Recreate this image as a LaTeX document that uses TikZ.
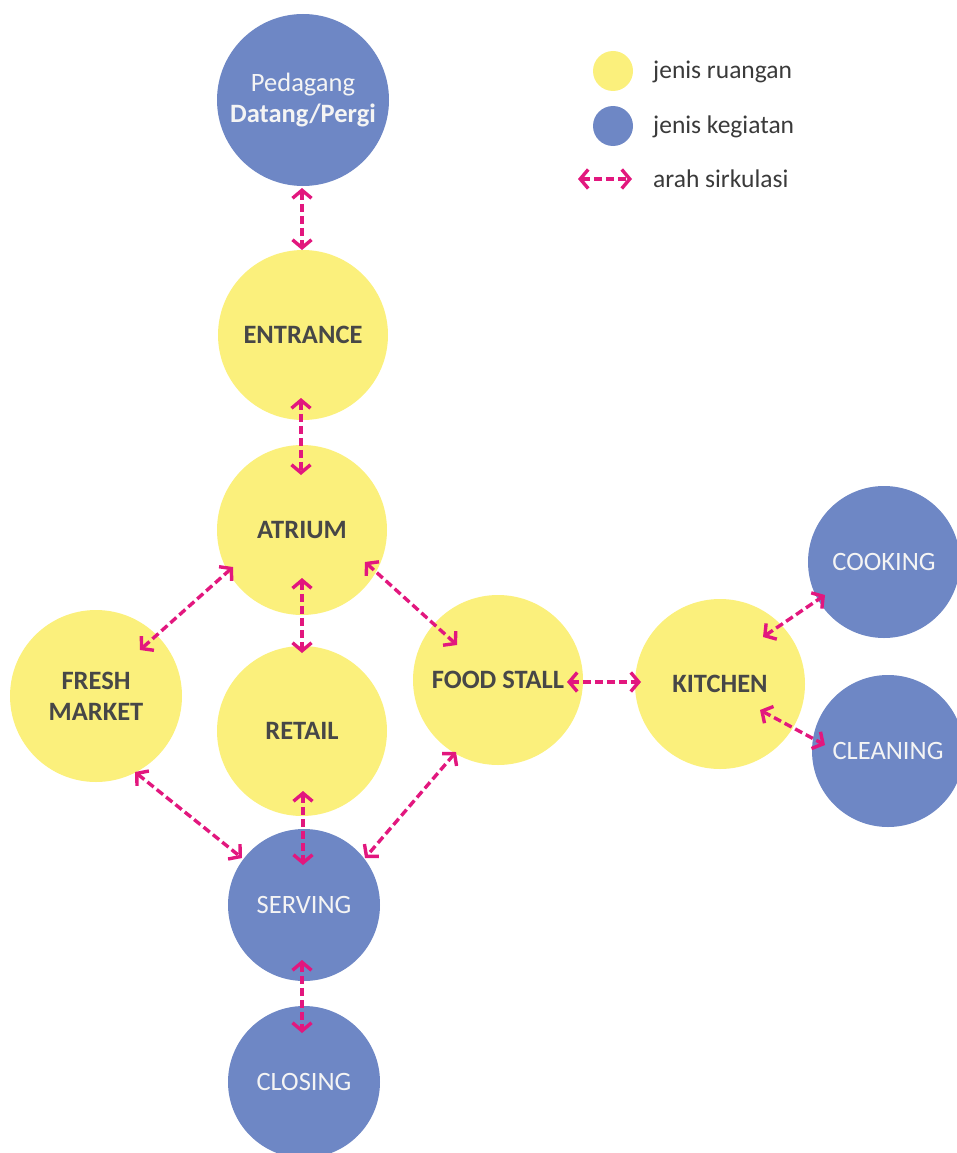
\documentclass[tikz,border=0pt]{standalone}
\usepackage{fontspec}
\setmainfont{Carlito}
\usetikzlibrary{arrows.meta}

\definecolor{roomfill}{HTML}{FBF07C}
\definecolor{actfill}{HTML}{6E87C5}
\definecolor{flowpink}{HTML}{E2177E}
\definecolor{darktext}{HTML}{474747}
\definecolor{keytextcol}{HTML}{3A3A3A}
\definecolor{lighttext}{HTML}{F4F4F4}

\tikzset{
  room/.style={circle, fill=roomfill, draw=none, minimum size=170pt, inner sep=0pt,
    text=darktext, font=\fontsize{26.5}{31}\selectfont\bfseries, align=center},
  activity/.style={circle, fill=actfill, draw=none, minimum size=152pt, inner sep=0pt,
    text=lighttext, font=\fontsize{26.5}{31}\selectfont, align=center},
  keydot/.style={circle, draw=none, minimum size=40pt, inner sep=0pt},
  keytext/.style={anchor=west, inner sep=0pt, text=keytextcol, font=\fontsize{25.5}{30}\selectfont},
  flow/.style={draw=flowpink, line width=3.4pt, dash pattern=on 8pt off 4pt,
    {Straight Barb[length=8pt,width=19pt]}-{Straight Barb[length=8pt,width=19pt]}},
}

\begin{document}
\begin{tikzpicture}[x=1pt,y=-1pt]
  \clip (0,0) rectangle (957,1153);

  % activities
  \node[activity, minimum size=172pt] (ped) at (303,100) {Pedagang\\\textbf{Datang/Pergi}};
  \node[activity] (cook)  at (884,562)  {COOKING};
  \node[activity] (clean) at (888,751)  {CLEANING};
  \node[activity] (serv)  at (304,905)  {SERVING};
  \node[activity] (clos)  at (304,1082) {CLOSING};

  % rooms
  \node[room] (ent) at (303,335) {ENTRANCE};
  \node[room] (atr) at (302,530) {ATRIUM};
  \node[room] (ret) at (302,731) {RETAIL};
  \node[room, minimum size=172pt] (fm) at (96,696) {FRESH\\MARKET};
  \node[room] (fs)  at (498,680) {FOOD STALL};
  \node[room] (kit) at (720,684) {KITCHEN};

  % circulation
  \draw[flow] ([shift={(-1,88)}]ped.center)  -- ([shift={(-1,-85)}]ent.center);
  \draw[flow] ([shift={(-2,63)}]ent.center)  -- ([shift={(-1,-55)}]atr.center);
  \draw[flow] ([shift={(0,48)}]atr.center)   -- ([shift={(0,-78)}]ret.center);
  \draw[flow] ([shift={(1,60)}]ret.center)   -- ([shift={(-1,-40)}]serv.center);
  \draw[flow] ([shift={(-2,55)}]serv.center) -- ([shift={(-2,-49)}]clos.center);
  \draw[flow] ([shift={(-69,37)}]atr.center) -- ([shift={(44,-46)}]fm.center);
  \draw[flow] ([shift={(39,76)}]fm.center)   -- ([shift={(-62,-47)}]serv.center);
  \draw[flow] ([shift={(63,32)}]atr.center)  -- ([shift={(-41,-35)}]fs.center);
  \draw[flow] ([shift={(-42,72)}]fs.center)  -- ([shift={(61,-47)}]serv.center);
  \draw[flow] ([shift={(69,2)}]fs.center)    -- ([shift={(-79,-2)}]kit.center);
  \draw[flow] ([shift={(43,-47)}]kit.center) -- ([shift={(-59,33)}]cook.center);
  \draw[flow] ([shift={(40,26)}]kit.center)  -- ([shift={(-63,-6)}]clean.center);

  % key
  \node[keydot, fill=roomfill] (keyroom) at (613,71) {};
  \node[keydot, fill=actfill]  (keyact)  at (613,126) {};
  \coordinate (keyL) at (578,179);
  \coordinate (keyR) at (632,179);
  \draw[flow] (keyL) -- (keyR);
  \node[keytext] (keyroomtxt) at (653,72)  {jenis ruangan};
  \node[keytext] (keyacttxt)  at (653,127) {jenis kegiatan};
  \node[keytext] (keyflowtxt) at (653,179) {arah sirkulasi};
\end{tikzpicture}
\end{document}
